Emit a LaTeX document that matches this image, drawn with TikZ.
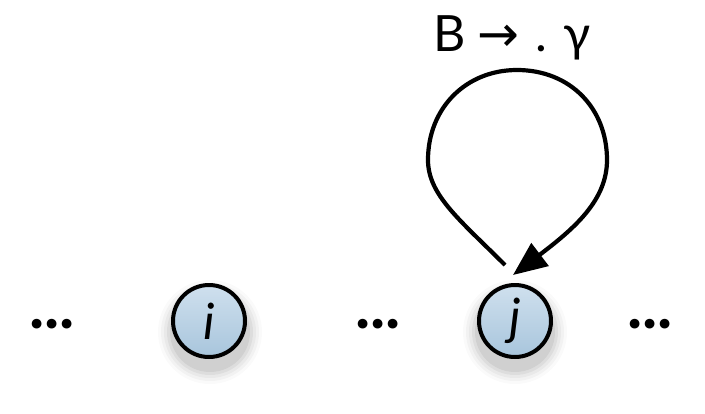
\documentclass[tikz,border=0pt]{standalone}
\usepackage{fontspec}
\setmainfont{Lato}
\newfontfamily\arrowfont{DejaVu Sans}
\usetikzlibrary{arrows.meta}
\definecolor{nodetop}{HTML}{CFE0EE}
\definecolor{nodebot}{HTML}{A8C5DC}
\tikzset{
  vert/.style={circle, draw=black, line width=4pt, top color=nodetop, bottom color=nodebot,
    minimum size=72pt, inner sep=0pt, font=\fontsize{50}{52}\selectfont\itshape},
  dots/.style={font=\fontsize{64}{66}\selectfont\bfseries, inner sep=0pt},
  loopline/.style={line width=4.2pt, -{Triangle[length=34pt,width=28pt]}},
}
\begin{document}
\begin{tikzpicture}[x=1pt,y=-1pt]
\useasboundingbox (0,0) rectangle (705,413);
% soft shadows
\foreach \c in {210,515}{
  \foreach \r/\o in {52/0.02,49/0.03,46/0.04,43/0.05,40/0.06}{
    \fill[black,opacity=\o] (\c,332) circle (\r);
  }
}
\node[vert] (i) at (209,321) {i};
\node[vert] (j) at (515,321) {j};
\node[dots] (d1) at (52,324) {...};
\node[dots] (d2) at (378,324) {...};
\node[dots] (d3) at (650,324) {...};
\node (lab) at (512,38) {\fontsize{50}{54}\selectfont B\hspace{12pt}{\arrowfont →}\hspace{16pt}.\hspace{16pt}γ};
\coordinate (ls) at ([shift={(-10,-18)}]j.north);
\coordinate (le) at ([shift={(-2,-8)}]j.north);
\draw[loopline] (ls) .. controls (460,220) and (428,195) .. (428,160)
  .. controls (428,108) and (466,70) .. (517,70)
  .. controls (570,70) and (607,108) .. (607,160)
  .. controls (607,200) and (575,228) .. (le);
\end{tikzpicture}
\end{document}
